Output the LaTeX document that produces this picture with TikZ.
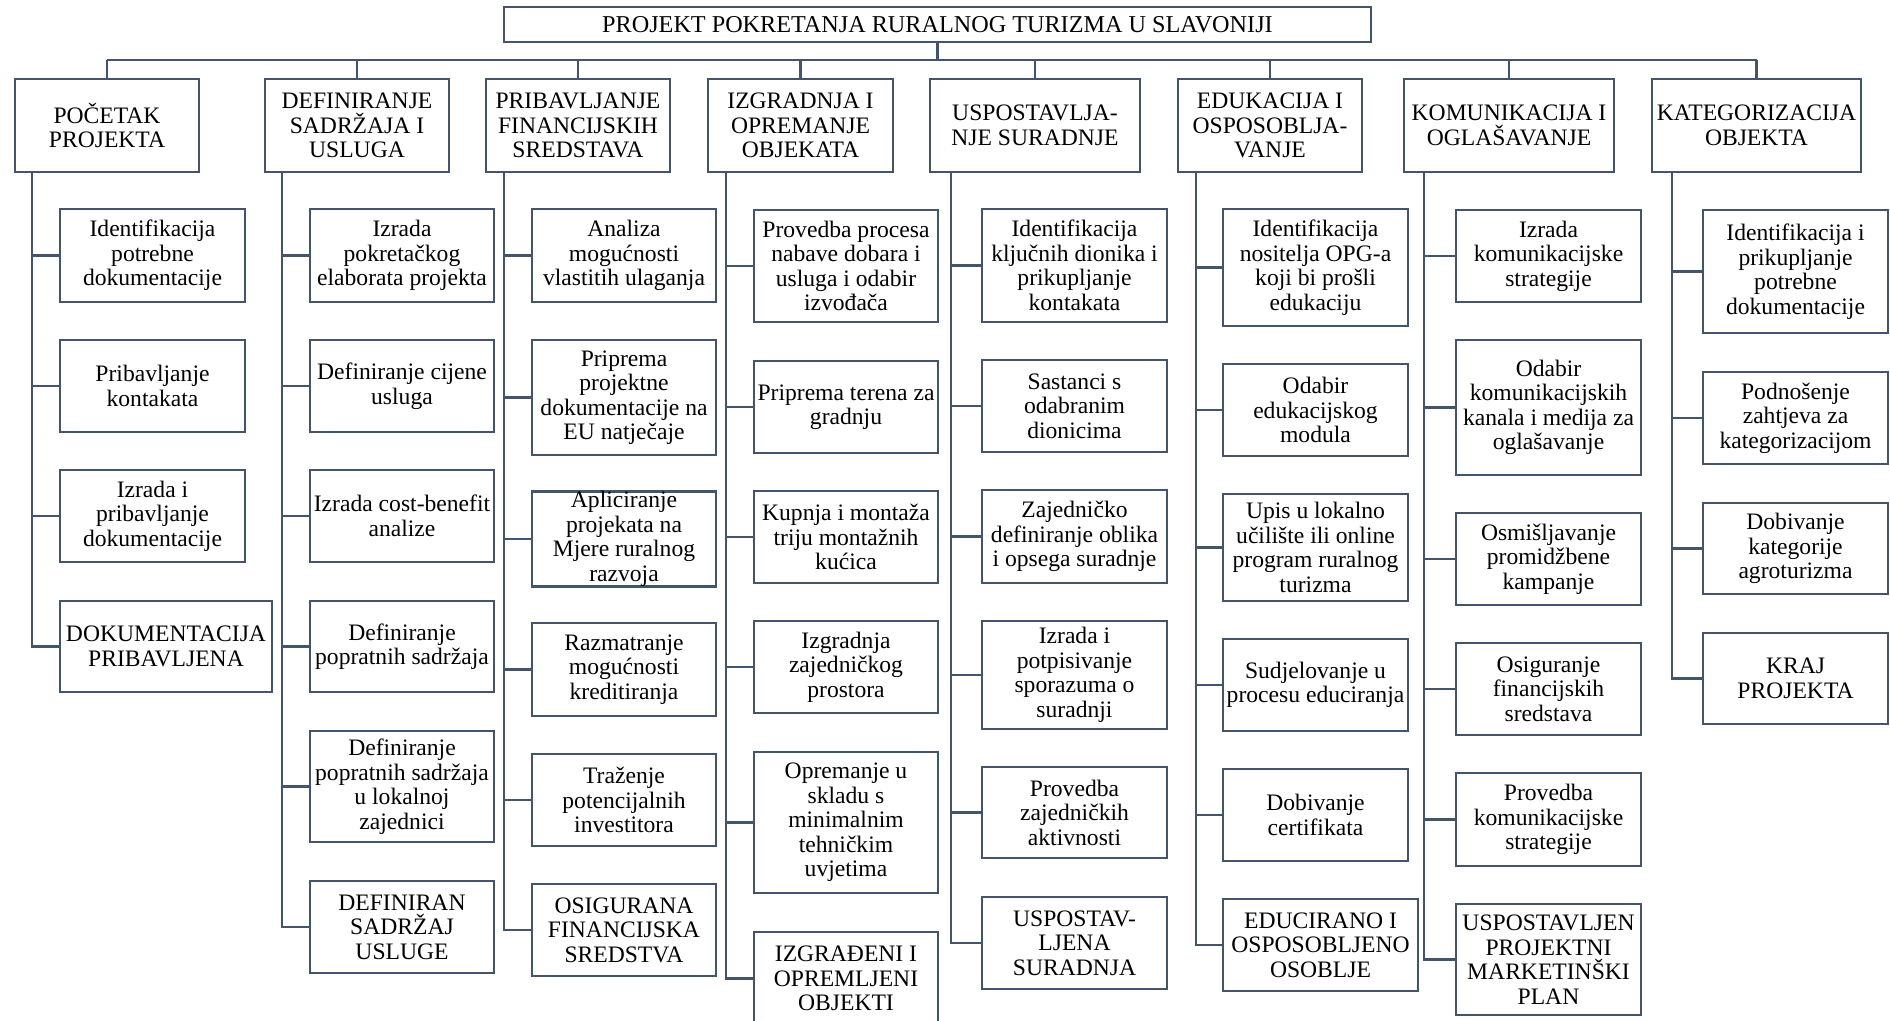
\documentclass[tikz,border=0pt]{standalone}
\usepackage{fontspec}
\setmainfont{Liberation Serif}
\definecolor{ln}{RGB}{68,84,106}
\tikzset{
  box/.style={draw=ln, line width=2.4pt, inner sep=0pt, align=center,
              font=\fontsize{23.6}{24.5}\selectfont},
  conn/.style={draw=ln, line width=2.6pt},
}
\newcommand{\bx}[6]{\node[box, minimum width={#4-#2}, minimum height={#5-#3}] (#1) at ({(#2+#4)/2},{(#3+#5)/2}) {#6};}
\begin{document}
\begin{tikzpicture}[x=1pt,y=-1pt]
\fill[white] (0,0) rectangle (1890,1020);
\useasboundingbox (0,0) rectangle (1890,1020);

% title
\bx{title}{504}{7}{1371}{42}{\fontsize{24.2}{25}\selectfont PROJEKT POKRETANJA RURALNOG TURIZMA U SLAVONIJI}
\coordinate (bus) at (0,60);

% level 1
\bx{p1}{15}{79}{199}{172}{POČETAK\\PROJEKTA}
\bx{p2}{265}{79}{449}{172}{DEFINIRANJE\\SADRŽAJA I\\USLUGA}
\bx{p3}{486}{79}{670}{172}{PRIBAVLJANJE\\FINANCIJSKIH\\SREDSTAVA}
\bx{p4}{708}{79}{893}{172}{IZGRADNJA I\\OPREMANJE\\OBJEKATA}
\bx{p5}{930}{79}{1140}{172}{USPOSTAVLJA-\\NJE SURADNJE}
\bx{p6}{1178}{79}{1362}{172}{EDUKACIJA I\\OSPOSOBLJA-\\VANJE}
\bx{p7}{1404}{79}{1614}{172}{KOMUNIKACIJA I\\OGLAŠAVANJE}
\bx{p8}{1652}{79}{1861}{172}{KATEGORIZACIJA\\OBJEKTA}

% column 1
\bx{a1}{60}{209}{245}{302}{Identifikacija\\potrebne\\dokumentacije}
\bx{a2}{60}{340}{245}{432}{Pribavljanje\\kontakata}
\bx{a3}{60}{470}{245}{562}{Izrada i\\pribavljanje\\dokumentacije}
\bx{a4}{60}{601}{272}{692}{DOKUMENTACIJA\\PRIBAVLJENA}

% column 2
\bx{b1}{310}{209}{494}{302}{Izrada\\pokretačkog\\elaborata projekta}
\bx{b2}{310}{340}{494}{432}{Definiranje cijene\\usluga}
\bx{b3}{310}{470}{494}{562}{Izrada cost-benefit\\analize}
\bx{b4}{310}{601}{494}{692}{Definiranje\\popratnih sadržaja}
\bx{b5}{310}{731}{494}{842}{Definiranje\\popratnih sadržaja\\u lokalnoj\\zajednici}
\bx{b6}{310}{881}{494}{973}{DEFINIRAN\\SADRŽAJ\\USLUGE}

% column 3
\bx{c1}{532}{209}{716}{302}{Analiza\\mogućnosti\\vlastitih ulaganja}
\bx{c2}{532}{340}{716}{455}{Priprema\\projektne\\dokumentacije na\\EU natječaje}
\bx{c3}{532}{493}{716}{585}{Apliciranje\\projekata na\\Mjere ruralnog\\razvoja}
\bx{c4}{532}{623}{716}{716}{Razmatranje\\mogućnosti\\kreditiranja}
\bx{c5}{532}{754}{716}{846}{Traženje\\potencijalnih\\investitora}
\bx{c6}{532}{884}{716}{976}{OSIGURANA\\FINANCIJSKA\\SREDSTVA}

% column 4
\bx{d1}{754}{210}{938}{322}{Provedba procesa\\nabave dobara i\\usluga i odabir\\izvođača}
\bx{d2}{754}{361}{938}{453}{Priprema terena za\\gradnju}
\bx{d3}{754}{491}{938}{583}{Kupnja i montaža\\triju montažnih\\kućica}
\bx{d4}{754}{621}{938}{713}{Izgradnja\\zajedničkog\\prostora}
\bx{d5}{754}{752}{938}{893}{Opremanje u\\skladu s\\minimalnim\\tehničkim\\uvjetima}
\bx{d6}{754}{932}{938}{1025}{IZGRAĐENI I\\OPREMLJENI\\OBJEKTI}

% column 5
\bx{e1}{982}{209}{1167}{322}{Identifikacija\\ključnih dionika i\\prikupljanje\\kontakata}
\bx{e2}{982}{360}{1167}{452}{Sastanci s\\odabranim\\dionicima}
\bx{e3}{982}{490}{1167}{583}{Zajedničko\\definiranje oblika\\i opsega suradnje}
\bx{e4}{982}{621}{1167}{729}{Izrada i\\potpisivanje\\sporazuma o\\suradnji}
\bx{e5}{982}{767}{1167}{858}{Provedba\\zajedničkih\\aktivnosti}
\bx{e6}{982}{897}{1167}{989}{USPOSTAV-\\LJENA\\SURADNJA}

% column 6
\bx{f1}{1223}{209}{1408}{326}{Identifikacija\\nositelja OPG-a\\koji bi prošli\\edukaciju}
\bx{f2}{1223}{364}{1408}{456}{Odabir\\edukacijskog\\modula}
\bx{f3}{1223}{494}{1408}{601}{Upis u lokalno\\učilište ili online\\program ruralnog\\turizma}
\bx{f4}{1223}{639}{1408}{731}{Sudjelovanje u\\procesu educiranja}
\bx{f5}{1223}{769}{1408}{861}{Dobivanje\\certifikata}
\bx{f6}{1223}{899}{1418}{991}{EDUCIRANO I\\OSPOSOBLJENO\\OSOBLJE}

% column 7
\bx{g1}{1456}{210}{1641}{302}{Izrada\\komunikacijske\\strategije}
\bx{g2}{1456}{340}{1641}{475}{Odabir\\komunikacijskih\\kanala i medija za\\oglašavanje}
\bx{g3}{1456}{513}{1641}{605}{Osmišljavanje\\promidžbene\\kampanje}
\bx{g4}{1456}{643}{1641}{735}{Osiguranje\\financijskih\\sredstava}
\bx{g5}{1456}{773}{1641}{866}{Provedba\\komunikacijske\\strategije}
\bx{g6}{1456}{904}{1641}{1015}{USPOSTAVLJEN\\PROJEKTNI\\MARKETINŠKI\\PLAN}

% column 8
\bx{h1}{1703}{210}{1888}{333}{Identifikacija i\\prikupljanje\\potrebne\\dokumentacije}
\bx{h2}{1703}{372}{1888}{464}{Podnošenje\\zahtjeva za\\kategorizacijom}
\bx{h3}{1703}{503}{1888}{594}{Dobivanje\\kategorije\\agroturizma}
\bx{h4}{1703}{633}{1888}{724}{KRAJ\\PROJEKTA}

% bus
\draw[conn] (title.south) -- (title.south |- bus);
\draw[conn] (p1.north |- bus) -- (p8.north |- bus);
\foreach \p in {p1,p2,p3,p4,p5,p6,p7,p8}
  \draw[conn] (\p.north) -- (\p.north |- bus);

% spines
\coordinate (s1) at ([xshift=18pt]p1.south west);
\coordinate (s2) at ([xshift=18pt]p2.south west);
\coordinate (s3) at ([xshift=19pt]p3.south west);
\coordinate (s4) at ([xshift=19pt]p4.south west);
\coordinate (s5) at ([xshift=22pt]p5.south west);
\coordinate (s6) at ([xshift=19pt]p6.south west);
\coordinate (s7) at ([xshift=21pt]p7.south west);
\coordinate (s8) at ([xshift=21pt]p8.south west);

\foreach \c in {a1,a2,a3,a4} \draw[conn] (s1) |- (\c.west);
\foreach \c in {b1,b2,b3,b4,b5,b6} \draw[conn] (s2) |- (\c.west);
\foreach \c in {c1,c2,c3,c4,c5,c6} \draw[conn] (s3) |- (\c.west);
\foreach \c in {d1,d2,d3,d4,d5,d6} \draw[conn] (s4) |- (\c.west);
\foreach \c in {e1,e2,e3,e4,e5,e6} \draw[conn] (s5) |- (\c.west);
\foreach \c in {f1,f2,f3,f4,f5,f6} \draw[conn] (s6) |- (\c.west);
\foreach \c in {g1,g2,g3,g4,g5,g6} \draw[conn] (s7) |- (\c.west);
\foreach \c in {h1,h2,h3,h4} \draw[conn] (s8) |- (\c.west);
\end{tikzpicture}
\end{document}
